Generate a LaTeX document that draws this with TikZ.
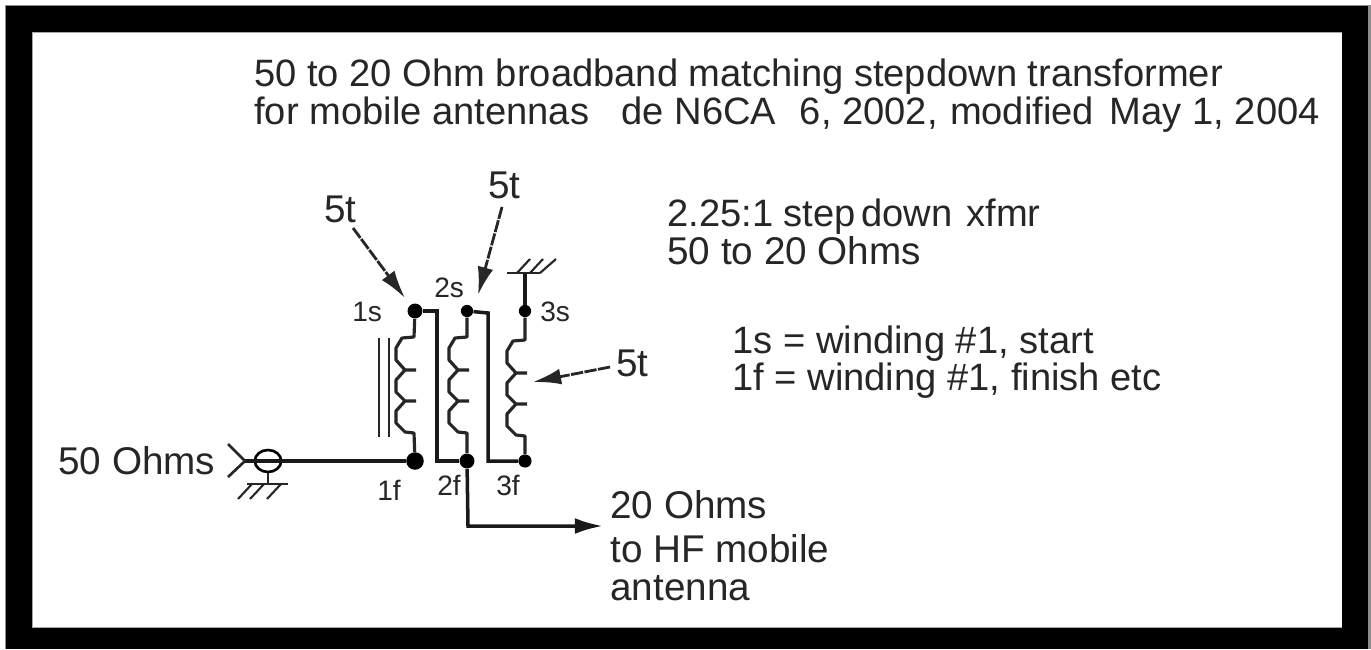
\documentclass[tikz,border=0pt]{standalone}
\usepackage{fontspec}
\setmainfont{Liberation Sans}
\usetikzlibrary{arrows.meta,shapes.geometric}
\tikzset{
  label big/.style={anchor=base west, inner sep=0pt, font=\fontsize{22}{22}\selectfont, text=black!85},
  label title/.style={anchor=base west, inner sep=0pt, font=\fontsize{21.7}{22}\selectfont, text=black!85},
  label small/.style={anchor=base west, inner sep=0pt, font=\fontsize{16}{16}\selectfont, text=black!85},
  wire/.style={line width=2pt, black!90},
  core line/.style={line width=1.6pt, black!85},
  thin wire/.style={line width=1.2pt, black!85},
  pointer/.style={line width=1.6pt, black!85, dash pattern=on 7pt off 0.8pt, -{Latex[length=16pt,width=9pt]}},
  junction/.style={circle, fill=black, inner sep=0pt, minimum size=#1},
  winding/.style={line width=1.8pt, black!85, line join=round}
}
\begin{document}
\begin{tikzpicture}[x=0.02cm, y=-0.02cm]
\useasboundingbox (0,0) rectangle (1371,649);
% Frame
\fill[black!45] (5,5) rectangle (1371,649);
\fill[black] (6,6) rectangle (1368,649);
\fill[black!35] (32,32) rectangle (1342,628);
\fill[white] (33,33) rectangle (1342,627);

% Title
\node[label title] (title1) at (254,86) {50 to 20 Ohm broadband matching stepdown transformer};
\node[label title] (title2) at (254,124) {for mobile antennas\hspace{.85em}de N6CA\hspace{.62em}6, 2002,\kern1pt\ modified\kern3pt\ May 1, 2004};

% Notes
\node[label title] (ratio) at (667,226) {2.25:1 step\kern3pt down\kern2pt\ xfmr};
\node[label big] (imped) at (667,264) {50 to 20 Ohms};
\node[label title] (note1) at (732,353) {1s = winding \#1, start};
\node[label title] (note2) at (732,390) {1f = winding \#1, finish etc};
\node[label big] (in) at (58,474) {50 Ohms};
\node[label big] (out1) at (610,518) {20 Ohms};
\node[label big] (out2) at (610,562) {to HF mobile};
\node[label big] (out3) at (610,600) {antenna};
\node[label big] (turnsa) at (324,222) {5t};
\node[label big] (turnsb) at (488,198) {5t};
\node[label big] (turnsc) at (616,376) {5t};

% Pin labels
\foreach \n/\x/\y/\t in {a/352/321/1s, b/434/297/2s, c/540/321/3s, d/377/500/1f, e/437/495/2f, f/496/495/3f}{
    \node[label small] (pin\n) at (\x,\y) {\t};
}

% Junctions
\foreach \n/\x/\y/\s in {s1/415/311/8.5pt, s2/467/311/7pt, s3/525/311/7pt, f1/415/461/10pt, f2/467/461/8.5pt, f3/525/461/7.5pt}{
    \node[junction=\s] (\n) at (\x,\y) {};
}
\coordinate (outturn) at (468,526);
\coordinate (outend) at (603,526);
\coordinate (gndthree) at (525,273);
\coordinate (core1) at (379,338);
\coordinate (core2) at (379,437);
\coordinate (core3) at (389,338);
\coordinate (core4) at (389,437);
\coordinate (tipa) at (405,298);
\coordinate (tipb) at (478,295);
\coordinate (tipc) at (533,382);
\coordinate (jack) at (245,461);

% Windings
\foreach \s/\f/\x/\y in {s1/f1/0/0, s2/f2/53/0, s3/f3/111/3}{
    \draw[winding, shift={(\x,\y)}] (\s) -- (414,337) -- (402,338) -- (396,348) -- (396,360) -- (405,370) -- (416,370)
      (405,370) -- (396,380) -- (396,392) -- (405,401) -- (416,401)
      (405,401) -- (396,411) -- (396,423) -- (405,432) -- (414,433) -- (\f);
}

% Core
\draw[core line] (core1) -- (core2);
\draw[core line] (core3) -- (core4);

% Cross connections
\draw[wire] (s1) -- (437,311) -- (437,461) -- (f2);
\draw[wire] (s2) -- (488,313) -- (488,461) -- (f3);
\draw[wire] (gndthree) -- (s3);
\draw[wire, -{Latex[length=16pt,width=9pt]}] (f2) -- (outturn) -- (outend);

% Ground at top
\draw[core line] (507,273) -- (540,273);
\draw[thin wire] (517,273) -- (530,259) (530,273) -- (543,259) (540,273) -- (556,259);

% Connector
\node[ellipse, draw, line width=1.5pt, minimum width=15pt, minimum height=12.5pt, inner sep=0pt] (coax) at (268,461) {};
\draw[wire] (jack) -- (f1);
\draw[line width=1.5pt, black!85] (228,444) -- (jack) -- (228,477);
\draw[core line] (coax.south) -- (268,484);
\draw[core line] (247,484) -- (288,484);
\draw[thin wire] (238,499) -- (252,484) (250,499) -- (264,484) (267,499) -- (281,484);

% Pointers
\draw[pointer] (353,228) -- (tipa);
\draw[pointer] (502,207) -- (tipb);
\draw[pointer] (610,367) -- (tipc);
\end{tikzpicture}
\end{document}
